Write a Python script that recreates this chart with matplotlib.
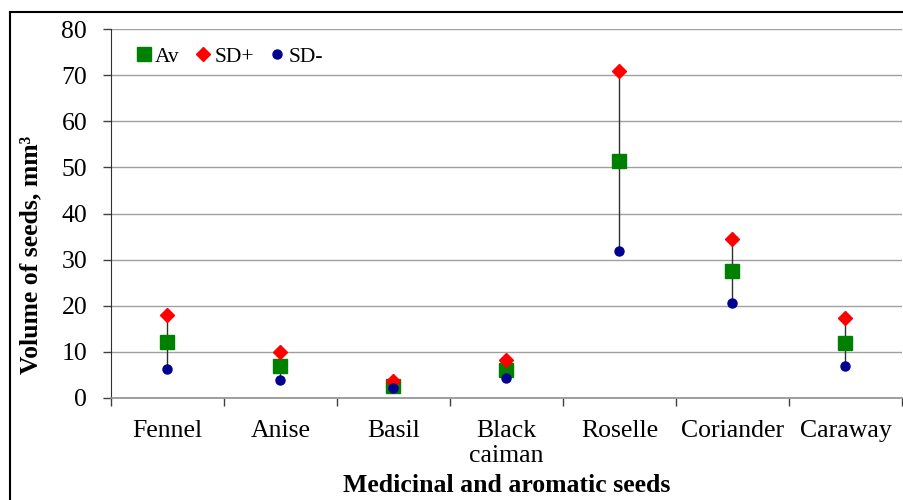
import matplotlib
matplotlib.use("Agg")
import matplotlib.pyplot as plt
from matplotlib.lines import Line2D
import numpy as np

plt.rcParams['font.family'] = ['Liberation Serif', 'DejaVu Serif']

categories = ["Fennel", "Anise", "Basil", "Black\ncaiman", "Roselle", "Coriander", "Caraway"]
av = [12.1, 6.9, 2.7, 6.1, 51.4, 27.6, 11.9]
sd_plus = [18.1, 10.0, 3.7, 8.2, 71.0, 34.5, 17.3]
sd_minus = [6.2, 3.8, 2.1, 4.3, 31.9, 20.7, 6.9]
yticks = [0, 10, 20, 30, 40, 50, 60, 70, 80]

fig = plt.figure(figsize=(9.04, 5.0), dpi=100)
ax = fig.add_axes([0.1225, 0.204, 0.8753, 0.738])

x = np.arange(len(categories))
ax.vlines(x, sd_minus, sd_plus, color='#303030', lw=1, zorder=2)
ax.plot(x, av, 's', color='#008000', ms=9.5, label='Av', zorder=3, linestyle='none')
ax.plot(x, sd_plus, 'D', color='#ff0000', ms=7, label='SD+', zorder=3, linestyle='none')
ax.plot(x, sd_minus, 'o', color='#000090', ms=6.5, label='SD-', zorder=3, linestyle='none')

ax.set_xlim(-0.5, len(categories) - 0.5)
ax.set_ylim(0, 80)
ax.set_yticks(yticks)
ax.set_yticklabels([str(v) for v in yticks])
ax.set_xticks(x)
ax.set_xticklabels(categories, linespacing=1.15)
ax.set_xticks(np.arange(-0.5, len(categories)), minor=True)
ax.tick_params(axis='x', which='major', length=0, pad=16, labelsize=18.5)
ax.tick_params(axis='x', which='minor', length=6, width=1, color='#404040', direction='out')
ax.tick_params(axis='y', length=6, width=1, pad=11, labelsize=18.5, color='#404040')

ax.yaxis.grid(True, color='#a0a0a0', lw=1)
ax.set_axisbelow(True)
for s in ['top', 'right']:
    ax.spines[s].set_visible(False)
ax.spines['left'].set_color('#303030')
ax.spines['bottom'].set_color('#909090')
ax.spines['bottom'].set_linewidth(1.2)

ax.set_ylabel("Volume of seeds, mm³", fontsize=18.5, fontweight='bold')
ax.yaxis.set_label_coords(-0.087, 0.388)
ax.set_xlabel("Medicinal and aromatic seeds", fontsize=18.5, fontweight='bold')
ax.xaxis.set_label_coords(0.5, -0.205)

leg = ax.legend(loc='center left', bbox_to_anchor=(0.033, 0.925), ncol=3, frameon=False,
                fontsize=15.5, handlelength=0.7, handletextpad=0.15, columnspacing=0.75,
                borderpad=0, borderaxespad=0)

fig.add_artist(Line2D([10/904, 1], [1 - 12/500, 1 - 12/500], transform=fig.transFigure, color='black', lw=1.5))
fig.add_artist(Line2D([10/904, 10/904], [0, 1 - 12/500], transform=fig.transFigure, color='black', lw=1.5))

fig.savefig("out.png", dpi=100)
